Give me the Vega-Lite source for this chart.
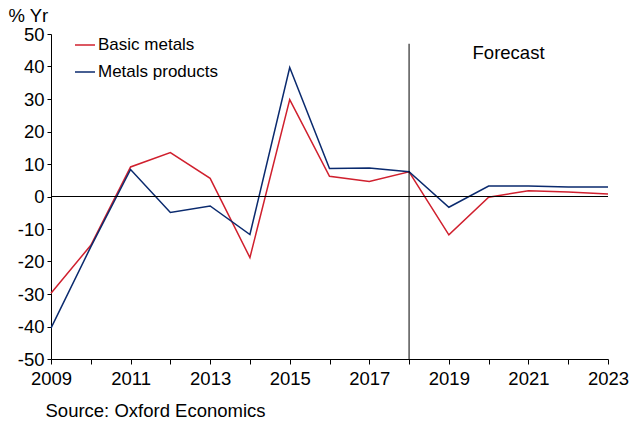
{
  "$schema": "https://vega.github.io/schema/vega-lite/v6.json",
  "width": 557,
  "height": 325,
  "autosize": {"type": "none"},
  "padding": {"left": 51, "top": 34, "right": 22, "bottom": 64},
  "background": "white",
  "config": {
    "view": {"stroke": null},
    "font": "Liberation Sans",
    "axis": {"grid": false, "labelOverlap": false, "domainColor": "black", "tickColor": "black", "labelColor": "black", "titleColor": "black", "labelFont": "Liberation Sans", "titleFont": "Liberation Sans", "titleFontWeight": "normal"}
  },
  "layer": [
    {
      "data": {
        "values": [
          {"year": 2009, "series": "Basic metals", "value": -29.8},
          {"year": 2010, "series": "Basic metals", "value": -15.0},
          {"year": 2011, "series": "Basic metals", "value": 9.1},
          {"year": 2012, "series": "Basic metals", "value": 13.5},
          {"year": 2013, "series": "Basic metals", "value": 5.6},
          {"year": 2014, "series": "Basic metals", "value": -18.8},
          {"year": 2015, "series": "Basic metals", "value": 29.8},
          {"year": 2016, "series": "Basic metals", "value": 6.2},
          {"year": 2017, "series": "Basic metals", "value": 4.6},
          {"year": 2018, "series": "Basic metals", "value": 7.6},
          {"year": 2019, "series": "Basic metals", "value": -11.8},
          {"year": 2020, "series": "Basic metals", "value": -0.2},
          {"year": 2021, "series": "Basic metals", "value": 1.8},
          {"year": 2022, "series": "Basic metals", "value": 1.4},
          {"year": 2023, "series": "Basic metals", "value": 0.8},
          {"year": 2009, "series": "Metals products", "value": -40.5},
          {"year": 2010, "series": "Metals products", "value": -15.5},
          {"year": 2011, "series": "Metals products", "value": 8.3},
          {"year": 2012, "series": "Metals products", "value": -4.9},
          {"year": 2013, "series": "Metals products", "value": -2.9},
          {"year": 2014, "series": "Metals products", "value": -11.7},
          {"year": 2015, "series": "Metals products", "value": 39.7},
          {"year": 2016, "series": "Metals products", "value": 8.6},
          {"year": 2017, "series": "Metals products", "value": 8.8},
          {"year": 2018, "series": "Metals products", "value": 7.6},
          {"year": 2019, "series": "Metals products", "value": -3.3},
          {"year": 2020, "series": "Metals products", "value": 3.2},
          {"year": 2021, "series": "Metals products", "value": 3.2},
          {"year": 2022, "series": "Metals products", "value": 2.9},
          {"year": 2023, "series": "Metals products", "value": 2.9}
        ]
      },
      "mark": {"type": "line", "strokeWidth": 1.5},
      "encoding": {
        "x": {
          "field": "year", "type": "quantitative",
          "scale": {"domain": [2009, 2023], "nice": false, "zero": false},
          "axis": {
            "values": [2009, 2010, 2011, 2012, 2013, 2014, 2015, 2016, 2017, 2018, 2019, 2020, 2021, 2022, 2023],
            "tickCount": 15,
            "format": "d",
            "labelExpr": "datum.value % 2 == 1 ? datum.label : ''",
            "labelFontSize": 18.5,
            "tickSize": 5,
            "labelPadding": 5,
            "labelFlush": false,
            "labelOverlap": false,
            "title": "Source: Oxford Economics",
            "titleFontSize": 18.5,
            "titleAnchor": "start",
            "titleAlign": "left",
            "titleBaseline": "middle",
            "titleX": -6,
            "titleY": 51
          }
        },
        "y": {
          "field": "value", "type": "quantitative",
          "scale": {"domain": [-50, 50], "nice": false},
          "axis": {
            "values": [-50, -40, -30, -20, -10, 0, 10, 20, 30, 40, 50],
            "tickCount": 11,
            "format": "d",
            "labelExpr": "replace(datum.label, '\u2212', '-')",
            "labelFontSize": 18.5,
            "tickSize": 4,
            "labelPadding": 3,
            "labelFlush": false,
            "labelOverlap": false,
            "labelBound": false,
            "title": "% Yr",
            "titleFontSize": 18.5,
            "titleAngle": 0,
            "titleAlign": "left",
            "titleBaseline": "middle",
            "titleX": -43,
            "titleY": -19
          }
        },
        "color": {
          "field": "series", "type": "nominal",
          "scale": {"domain": ["Basic metals", "Metals products"], "range": ["#D0202E", "#0A2A6E"]},
          "legend": {
            "title": null,
            "orient": "none",
            "legendX": 23,
            "legendY": 0,
            "symbolType": "stroke",
            "symbolSize": 400,
            "symbolStrokeWidth": 1.5,
            "labelFontSize": 17,
            "labelFont": "Liberation Sans",
            "labelColor": "black",
            "labelOffset": 2,
            "rowPadding": 8
          }
        }
      }
    },
    {
      "data": {"values": [{}]},
      "mark": {"type": "rule", "color": "black", "strokeWidth": 1},
      "encoding": {"y": {"datum": 0, "type": "quantitative", "axis": {"labelOverlap": false, "tickCount": 11}}}
    },
    {
      "data": {"values": [{}]},
      "mark": {"type": "rule", "color": "black", "strokeWidth": 1},
      "encoding": {
        "x": {"datum": 2018, "type": "quantitative", "axis": {"labelOverlap": false, "tickCount": 15}},
        "y": {"datum": -50, "type": "quantitative", "axis": {"labelOverlap": false, "tickCount": 11}},
        "y2": {"datum": 47}
      }
    },
    {
      "data": {"values": [{}]},
      "mark": {"type": "text", "fontSize": 18.5, "font": "Liberation Sans", "fill": "black", "align": "center", "baseline": "middle"},
      "encoding": {
        "x": {"datum": 2020.5, "type": "quantitative", "axis": {"labelOverlap": false, "tickCount": 15}},
        "y": {"datum": 44.3, "type": "quantitative", "axis": {"labelOverlap": false, "tickCount": 11}},
        "text": {"value": "Forecast"}
      }
    }
  ]
}
